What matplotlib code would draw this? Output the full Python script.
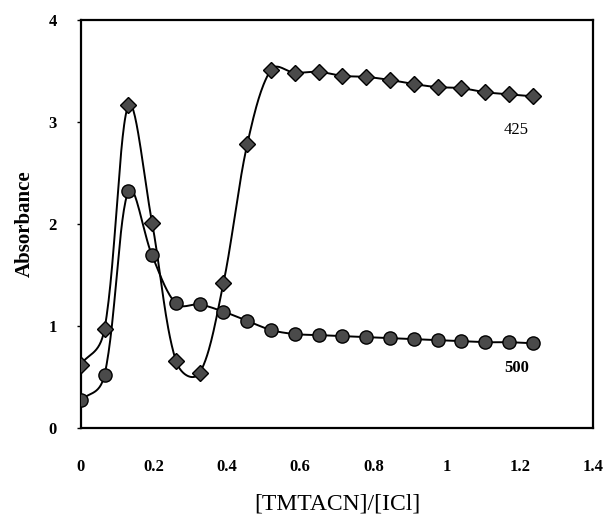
import numpy as np
import matplotlib
matplotlib.use("Agg")
import matplotlib.pyplot as plt

plt.rcParams["font.family"] = ["Liberation Serif", "DejaVu Serif"]

ratio = [0.0, 0.065, 0.13, 0.195, 0.26, 0.325, 0.39, 0.455, 0.52, 0.585,
         0.65, 0.715, 0.78, 0.845, 0.91, 0.975, 1.04, 1.105, 1.17, 1.235]
abs_425 = [0.62, 0.97, 3.16, 2.01, 0.66, 0.54, 1.42, 2.78, 3.51, 3.48,
           3.49, 3.45, 3.44, 3.41, 3.37, 3.34, 3.33, 3.29, 3.27, 3.25]
abs_500 = [0.27, 0.52, 2.32, 1.69, 1.22, 1.21, 1.14, 1.05, 0.96, 0.92,
           0.91, 0.90, 0.89, 0.88, 0.87, 0.86, 0.85, 0.84, 0.84, 0.83]


def smooth(x, y, sx=366.0, sy=102.0, n=30):
    # smoothed line: cubic Bezier pieces, control arms weighted by the
    # square root of the on-screen length of the neighbouring segments
    p = np.column_stack([np.asarray(x, float) * sx, np.asarray(y, float) * sy])
    m = len(p)
    d = np.sqrt(np.linalg.norm(np.diff(p, axis=0), axis=1))
    c_out = np.zeros_like(p)
    c_in = np.zeros_like(p)
    for i in range(m):
        if i == 0:
            c_out[i] = p[0] + (p[1] - p[0]) / 3
        elif i == m - 1:
            c_in[i] = p[-1] - (p[-1] - p[-2]) / 3
        else:
            tang = p[i + 1] - p[i - 1]
            tot = d[i - 1] + d[i]
            c_in[i] = p[i] - tang * d[i - 1] / tot / 3
            c_out[i] = p[i] + tang * d[i] / tot / 3
    t = np.linspace(0, 1, n, endpoint=False)[:, None]
    pts = []
    for i in range(m - 1):
        b = ((1 - t) ** 3 * p[i] + 3 * (1 - t) ** 2 * t * c_out[i]
             + 3 * (1 - t) * t ** 2 * c_in[i + 1] + t ** 3 * p[i + 1])
        pts.append(b)
    pts.append(p[-1:])
    pts = np.vstack(pts)
    return pts[:, 0] / sx, pts[:, 1] / sy


fig = plt.figure(figsize=(6.07, 5.2), dpi=100)
ax = fig.add_axes([0.133, 0.177, 0.844, 0.785])

for y, mk, ms in ((abs_425, "D", 8), (abs_500, "o", 9.5)):
    cx, cy = smooth(ratio, y)
    ax.plot(cx, cy, color="black", lw=1.4, zorder=2)
    ax.plot(ratio, y, ls="none", marker=mk, ms=ms, mfc="#4a4a4a",
            mec="black", mew=1.0, zorder=3)

ax.text(1.19, 2.92, "425", fontsize=12, ha="center", va="center")
ax.text(1.19, 0.59, "500", fontsize=12, fontweight="bold", ha="center", va="center")

ax.set_xlim(0, 1.4)
ax.set_ylim(0, 4)
ax.set_xticks([0, 0.2, 0.4, 0.6, 0.8, 1.0, 1.2, 1.4])
ax.set_xticklabels(["0", "0.2", "0.4", "0.6", "0.8", "1", "1.2", "1.4"])
ax.set_yticks([0, 1, 2, 3, 4])
ax.tick_params(axis="both", labelsize=12, length=3, width=1, pad=14)
ax.tick_params(axis="x", length=0, pad=22)
for lab in ax.get_xticklabels() + ax.get_yticklabels():
    lab.set_fontweight("bold")
for s in ax.spines.values():
    s.set_linewidth(1.6)

ax.set_xlabel("[TMTACN]/[ICl]", fontsize=17, labelpad=14)
ax.set_ylabel("Absorbance", fontsize=15, fontweight="bold", labelpad=10)

fig.savefig("out.png", dpi=100)
